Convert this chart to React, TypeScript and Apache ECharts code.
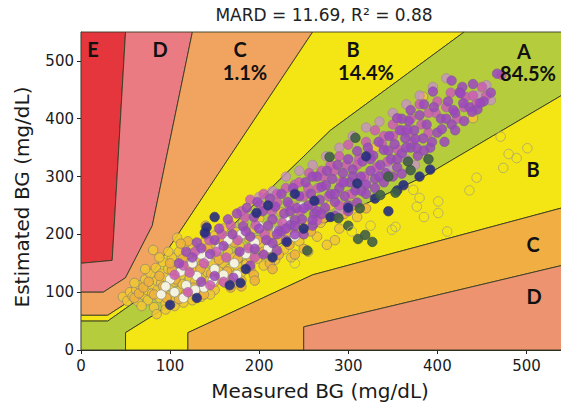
import { useEffect, useRef } from 'react';
import * as echarts from 'echarts';

// ---- axes ----
const xTicks = [0, 100, 200, 300, 400, 500];
const yTicks = [0, 100, 200, 300, 400, 500];
const axisMax = 550;

// ---- Parkes (consensus) error grid, type 1 boundaries [measured, estimated] ----
const aUpper = [[0, 50], [30, 50], [140, 170], [280, 380], [430, 550]];
const aLower = [[50, 0], [50, 30], [170, 145], [385, 300], [550, 450]];
const bUpper = [[0, 60], [30, 60], [50, 80], [70, 110], [260, 550]];
const bLower = [[120, 0], [120, 30], [260, 130], [550, 250]];
const cUpper = [[0, 100], [25, 100], [50, 125], [80, 215], [125, 550]];
const cLower = [[250, 0], [250, 40], [550, 150]];
const dUpper = [[0, 150], [35, 155], [50, 550]];

// ---- texts ----
const titleText = 'MARD = 11.69, R\u00B2 = 0.88';
const xName = 'Measured BG (mg/dL)';
const yName = 'Estimated BG (mg/dL)';
const topZoneLetters = ['E', 'D', 'C', 'B', 'A'];
const zoneShares = ['1.1%', '14.4%', '84.5%']; // C, B, A
const rightZoneLetters = ['B', 'C', 'D'];

// ---- points [measured, estimated] ----
const yellowPts = [
  [47, 92], [52, 85], [55, 100], [58, 92], [62, 104], [64, 84], [66, 112], [70, 95], [72, 122], [74, 104],
  [75, 86], [78, 132], [80, 112], [80, 98], [82, 74], [84, 142], [85, 120], [86, 104], [88, 90], [90, 132],
  [90, 116], [92, 152], [93, 100], [95, 80], [96, 126], [98, 140], [100, 110], [100, 94], [102, 160], [103, 130],
  [105, 118], [106, 86], [108, 146], [110, 102], [110, 170], [112, 128], [114, 114], [115, 92], [116, 152], [118, 138],
  [120, 106], [120, 166], [122, 124], [124, 96], [125, 182], [126, 146], [128, 118], [130, 136], [130, 158], [132, 100],
  [134, 172], [135, 124], [136, 148], [138, 112], [140, 190], [140, 160], [142, 134], [144, 120], [146, 178], [148, 150],
  [150, 104], [150, 198], [152, 164], [154, 138], [156, 124], [158, 186], [160, 150], [160, 210], [162, 116], [165, 170],
  [166, 140], [168, 196], [170, 128], [172, 160], [174, 204], [175, 146], [178, 180], [180, 134], [182, 220], [184, 168],
  [186, 150], [188, 194], [190, 140], [192, 178], [195, 210], [198, 158], [200, 228], [202, 184], [205, 146], [208, 200],
  [210, 168], [214, 224], [218, 156], [220, 190], [225, 238], [228, 174], [232, 204], [236, 160], [240, 248], [245, 188],
  [250, 218], [255, 170], [262, 234], [265, 196], [269, 220], [276, 182], [280, 250], [285, 190], [290, 210], [300, 268],
  [310, 230], [85, 62], [95, 70], [105, 76], [115, 82], [125, 86], [135, 92], [145, 96], [68, 76], [60, 116],
  [72, 140], [98, 170], [88, 160], [81, 173], [108, 194], [384, 438], [440, 401], [355, 398], [330, 350],
];
const orangePts = [
  [60, 90], [65, 98], [70, 108], [76, 118], [82, 96], [88, 128], [92, 110], [96, 90], [102, 138], [106, 122],
  [110, 88], [114, 158], [118, 98], [122, 146], [126, 108], [130, 170], [134, 140], [138, 96], [142, 176], [146, 132],
  [150, 118], [155, 156], [160, 190], [164, 136], [168, 108], [172, 186], [176, 158], [180, 120], [185, 200], [190, 160],
  [194, 130], [198, 190], [205, 170], [212, 150], [216, 200], [222, 165], [228, 212], [234, 182], [242, 200], [250, 175],
  [258, 205], [272, 228], [295, 235], [305, 250], [320, 245], [215, 140], [195, 120], [180, 110], [240, 165], [140, 215],
  [120, 188], [100, 150], [112, 184],
];
const whitePts = [
  [90, 96], [100, 122], [105, 100], [112, 136], [118, 112], [125, 150], [130, 128], [138, 108], [142, 160], [150, 140],
  [155, 176], [160, 130], [165, 190], [172, 150], [180, 200], [185, 166], [195, 186], [200, 214], [210, 176], [220, 206],
  [230, 224], [240, 196], [115, 90], [128, 104], [148, 120], [175, 130], [248, 248], [135, 165], [95, 110],
];
const lavenderPts = [
  [200, 265], [215, 275], [230, 300], [245, 310], [260, 320], [275, 335], [290, 350], [305, 370], [320, 385], [335, 395],
  [350, 410], [365, 425], [380, 440], [395, 455], [410, 470], [455, 458], [460, 432], [445, 440], [290, 240], [320, 290],
  [345, 315], [365, 330], [375, 320], [330, 310],
];
const magentaPts = [
  [105, 130], [115, 146], [122, 134], [128, 170], [138, 150], [144, 190], [152, 170], [158, 200], [163, 160], [168, 216],
  [176, 190], [184, 230], [188, 176], [196, 216], [202, 250], [206, 200], [214, 240], [220, 270], [226, 220], [234, 250],
  [240, 286], [246, 240], [250, 266], [256, 306], [260, 250], [266, 280], [272, 300], [278, 266], [284, 310], [292, 290],
  [298, 320], [304, 270], [312, 330], [318, 300], [324, 340], [332, 316], [338, 356], [344, 326], [350, 370], [356, 346],
  [366, 376], [372, 360], [382, 390], [390, 376], [398, 410], [410, 420], [422, 400], [432, 438], [444, 426], [455, 440],
  [472, 476], [120, 100], [145, 112], [160, 118], [195, 160], [230, 190], [265, 224], [290, 250],
  [180, 240], [190, 260], [205, 270], [220, 255], [230, 280], [245, 290], [255, 280], [270, 310], [280, 320], [290, 335],
  [300, 355], [310, 320], [320, 360], [330, 380], [340, 370], [350, 390], [360, 380], [370, 400], [380, 425], [390, 410],
  [400, 430], [415, 445], [430, 420], [440, 440], [450, 455],
];
const purplePts = [
  [110, 150], [118, 170], [125, 160], [130, 186], [135, 176], [140, 200], [145, 166], [150, 190], [155, 210], [160, 180],
  [165, 226], [170, 200], [175, 236], [178, 170], [182, 214], [186, 246], [190, 196], [194, 230], [198, 256], [200, 210],
  [204, 240], [208, 190], [212, 262], [215, 226], [218, 248], [222, 206], [225, 270], [228, 236], [232, 256], [235, 216],
  [238, 280], [242, 246], [245, 266], [248, 226], [252, 290], [255, 250], [258, 270], [262, 236], [265, 300], [268, 260],
  [270, 282], [274, 246], [276, 310], [280, 270], [282, 296], [285, 256], [288, 320], [290, 280], [294, 306], [296, 266],
  [300, 330], [302, 290], [305, 312], [308, 276], [310, 344], [314, 300], [316, 326], [320, 286], [322, 350], [325, 310],
  [328, 336], [330, 296], [334, 360], [336, 320], [340, 346], [342, 306], [346, 370], [348, 330], [352, 356], [355, 316],
  [358, 380], [360, 340], [364, 366], [368, 396], [370, 350], [374, 380], [378, 336], [380, 406], [384, 366], [388, 390],
  [392, 350], [396, 420], [400, 376], [404, 400], [408, 360], [412, 430], [416, 390], [420, 410], [425, 446], [430, 396],
  [436, 420], [440, 460], [445, 416], [452, 430], [467, 478], [416, 466], [395, 447], [428, 455], [426, 444], [429, 427],
  [448, 427], [418, 415], [439, 412], [405, 382], [385, 425], [370, 415], [360, 400], [394, 360], [377, 349], [366, 381],
  [355, 401], [171, 125], [190, 146], [220, 172], [205, 165], [240, 200], [260, 215], [285, 232], [300, 240], [150, 128],
  [135, 118], [185, 205], [195, 175], [210, 215], [215, 185], [225, 205], [235, 240], [240, 225], [250, 245], [260, 300],
  [265, 240], [275, 285], [285, 270], [295, 290], [305, 300], [315, 275], [325, 330], [335, 300], [345, 345], [355, 330],
  [365, 350], [375, 365], [385, 345], [410, 400], [420, 380], [300, 250], [310, 255], [320, 270], [330, 280], [340, 290],
  [350, 300], [360, 305], [270, 235], [260, 225], [250, 200], [240, 215], [230, 210], [220, 200], [460, 445],
];
const bluePts = [
  [100, 78], [130, 90], [139, 203], [141, 212], [167, 112], [179, 116], [197, 237], [231, 187], [150, 230], [185, 140],
  [215, 160], [240, 270], [250, 210], [262, 258], [280, 230], [300, 246], [310, 288], [330, 262], [345, 240], [355, 276],
  [380, 300], [392, 312], [362, 285], [320, 335], [210, 250],
];
const greenPts = [
  [254, 172], [289, 228], [311, 192], [319, 199], [327, 187], [313, 245], [336, 268], [353, 272], [367, 326], [370, 311],
  [308, 367], [279, 334], [345, 300], [300, 215], [390, 330],
];
const hollowPts = [
  [471, 369], [501, 349], [480, 339], [489, 332], [474, 315], [444, 298], [436, 276], [401, 257], [401, 237], [380, 263],
  [377, 248], [373, 277], [353, 213], [349, 208], [304, 205], [411, 205], [325, 215], [240, 150], [385, 230],
];

const rev = (a: number[][]) => [...a].reverse();

const zonePolys = [
  [...dUpper, [0, axisMax]], // E
  [...cUpper, ...rev(dUpper)], // D upper
  [...bUpper, ...rev(cUpper)], // C upper
  [...aUpper, ...rev(bUpper)], // B upper
  [...aUpper, [axisMax, axisMax], ...rev(aLower), [0, 0]], // A
  [...aLower, ...rev(bLower)], // B lower
  [...bLower, ...rev(cLower)], // C lower
  [...cLower, [axisMax, 0]], // D lower
];
const zoneColors = ['#e4363c', '#eb7b82', '#f0a460', '#f4e614', '#b5cd3c', '#f4e614', '#f1ae42', '#ee9370'];

export default function App() {
  const ref = useRef<HTMLDivElement>(null);
  useEffect(() => {
    const chart = echarts.init(ref.current!, null, { renderer: 'svg' });
    const font = 'DejaVu Sans';
    const scatter = (data: number[][], color: string, border: string, opacity = 0.88) => ({
      type: 'scatter',
      data,
      symbolSize: 9.5,
      z: 3,
      silent: true,
      itemStyle: { color, borderColor: border, borderWidth: 1, opacity },
    });
    const zoneText = (text: string, x: number, y: number) => ({
      type: 'text',
      x,
      y,
      z: 100,
      style: {
        text,
        textAlign: 'center',
        textVerticalAlign: 'middle',
        font: 'bold 20px Lato',
        fill: '#111',
      },
    });
    chart.setOption({
      animation: false,
      backgroundColor: '#ffffff',
      grid: { left: 81, top: 32, width: 490, height: 318, outerBoundsMode: 'none', containLabel: false },
      xAxis: {
        type: 'value',
        min: 0,
        max: axisMax,
        interval: 100,
        splitLine: { show: false },
        axisLine: { show: true, onZero: false, lineStyle: { color: '#222', width: 1.2 } },
        axisTick: { show: true, length: 4, customValues: xTicks, lineStyle: { color: '#222' } },
        axisLabel: { customValues: xTicks, fontSize: 15, color: '#1a1a1a', fontFamily: font, margin: 8 },
      },
      yAxis: {
        type: 'value',
        min: 0,
        max: axisMax,
        interval: 100,
        splitLine: { show: false },
        axisLine: { show: true, onZero: false, lineStyle: { color: '#222', width: 1.2 } },
        axisTick: { show: true, length: 4, customValues: yTicks, lineStyle: { color: '#222' } },
        axisLabel: { customValues: yTicks, fontSize: 15, color: '#1a1a1a', fontFamily: font, margin: 7 },
      },
      series: [
        {
          type: 'custom',
          z: 1,
          silent: true,
          data: zonePolys.map((p, i) => [p[0][0], p[0][1], i]),
          renderItem: (params: any, api: any) => {
            const poly = zonePolys[params.dataIndex];
            return {
              type: 'polygon',
              shape: { points: poly.map((pt) => api.coord(pt)) },
              style: {
                fill: zoneColors[params.dataIndex],
                stroke: 'rgba(55,60,35,0.9)',
                lineWidth: 1,
              },
            };
          },
        },
        scatter(yellowPts, '#f0c634', 'rgba(140,135,110,0.8)'),
        scatter(orangePts, '#eeb03c', 'rgba(140,125,110,0.8)'),
        scatter(whitePts, '#f6f6e8', 'rgba(150,150,130,0.8)', 0.95),
        scatter(lavenderPts, '#c88ccf', 'rgba(150,120,150,0.6)', 0.75),
        scatter(magentaPts, '#cd5ab6', 'rgba(150,110,150,0.7)', 0.85),
        scatter(purplePts, '#9c46c0', 'rgba(120,90,140,0.7)', 0.85),
        scatter(bluePts, '#252c82', 'rgba(60,60,100,0.8)', 0.9),
        scatter(greenPts, '#3f5f46', 'rgba(60,80,60,0.8)', 0.9),
        scatter(hollowPts, 'rgba(0,0,0,0)', 'rgba(175,170,110,0.9)', 1),
      ],
      graphic: [
        {
          type: 'text',
          x: 324,
          y: 15,
          z: 100,
          style: { text: titleText, textAlign: 'center', textVerticalAlign: 'middle', font: `17px "${font}"`, fill: '#222' },
        },
        {
          type: 'text',
          x: 320,
          y: 391,
          z: 100,
          style: { text: xName, textAlign: 'center', textVerticalAlign: 'middle', font: `20px "${font}"`, fill: '#1a1a1a' },
        },
        {
          type: 'text',
          x: 22,
          y: 197,
          rotation: Math.PI / 2,
          z: 100,
          style: { text: yName, textAlign: 'center', textVerticalAlign: 'middle', font: `20px "${font}"`, fill: '#1a1a1a' },
        },
        zoneText(topZoneLetters[0], 93, 49),
        zoneText(topZoneLetters[1], 160, 49),
        zoneText(topZoneLetters[2], 240, 49),
        zoneText(topZoneLetters[3], 353, 49),
        zoneText(topZoneLetters[4], 524, 51),
        zoneText(zoneShares[0], 245, 72),
        zoneText(zoneShares[1], 366, 72),
        zoneText(zoneShares[2], 528, 73),
        zoneText(rightZoneLetters[0], 533, 169),
        zoneText(rightZoneLetters[1], 533, 244),
        zoneText(rightZoneLetters[2], 534, 296),
      ],
    });
    return () => chart.dispose();
  }, []);
  return (
    <div
      ref={ref}
      style={{ position: 'fixed', left: 0, top: 0, width: 561, height: 407, background: '#fff' }}
    />
  );
}
